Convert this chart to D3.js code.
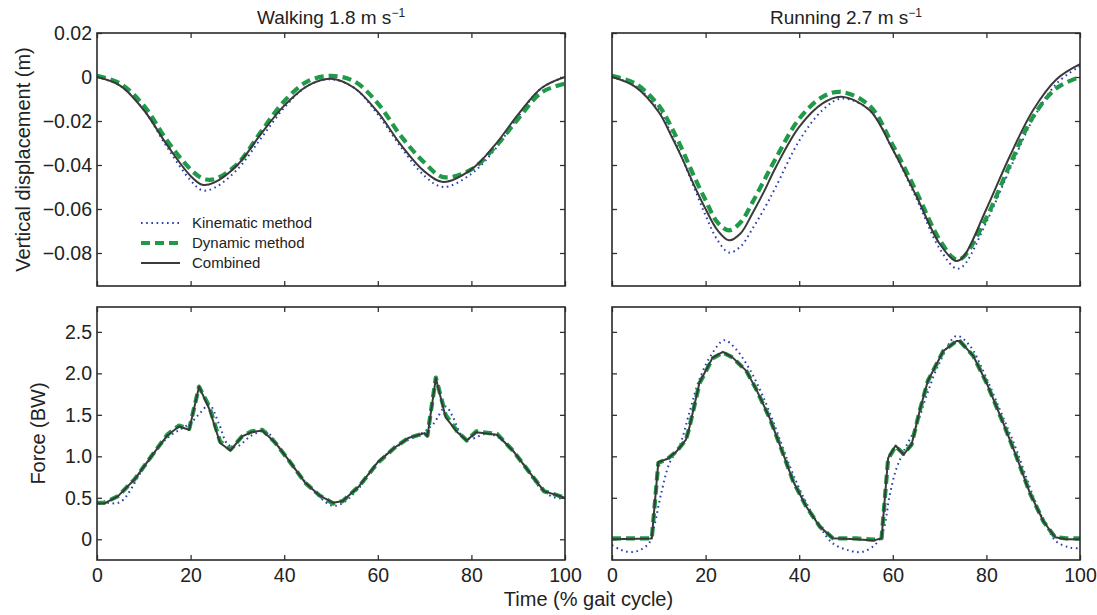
<!DOCTYPE html>
<html><head><meta charset="utf-8">
<script src="https://cdn.jsdelivr.net/npm/d3@7"></script>
<style>
body{margin:0;background:#fff;}
svg{display:block;font-family:"Liberation Sans",Arial,Helvetica,sans-serif;}
.tick text{fill:#222;}
</style></head>
<body><svg id="c" width="1097" height="615"></svg>
<script>
// ---------- data ----------
const xTicks = [0, 20, 40, 60, 80, 100];
const dispTicks = [0.02, 0, -0.02, -0.04, -0.06, -0.08];
const forceTicks = [0, 0.5, 1.0, 1.5, 2.0, 2.5];
const seriesNames = ["Kinematic method", "Dynamic method", "Combined"];

// Walking displacement (m)
const walkDispT    = [0,5,10,15,20,22.5,25,30,35,40,45,50,55,60,65,70,74,80,85,90,95,100];
const walkDispKin  = [0,-0.004,-0.015,-0.032,-0.047,-0.0515,-0.0505,-0.042,-0.028,-0.014,-0.004,-0.001,-0.005,-0.017,-0.032,-0.045,-0.050,-0.044,-0.033,-0.018,-0.005,0];
const walkDispDyn  = [0.0005,-0.003,-0.013,-0.029,-0.042,-0.046,-0.0465,-0.0395,-0.025,-0.011,-0.002,0.0005,-0.002,-0.012,-0.027,-0.039,-0.0455,-0.042,-0.032,-0.019,-0.007,-0.003];
const walkDispComb = [0,-0.004,-0.015,-0.031,-0.045,-0.049,-0.048,-0.040,-0.026,-0.013,-0.004,-0.0008,-0.005,-0.016,-0.031,-0.043,-0.0477,-0.042,-0.031,-0.017,-0.005,0];

// Running displacement (m)
const runDispT    = [0,5,10,12.5,15,17.5,20,22.5,25,27.5,30,32.5,35,40,45,49,55,60,65,70,73.5,75,80,85,90,95,100];
const runDispKin  = [0,-0.004,-0.015,-0.025,-0.037,-0.050,-0.063,-0.074,-0.0798,-0.077,-0.069,-0.060,-0.050,-0.029,-0.015,-0.0098,-0.015,-0.033,-0.055,-0.078,-0.087,-0.086,-0.066,-0.042,-0.019,-0.003,0.005];
const runDispDyn  = [0.0005,-0.003,-0.013,-0.022,-0.033,-0.045,-0.056,-0.066,-0.0697,-0.066,-0.057,-0.047,-0.037,-0.019,-0.009,-0.0068,-0.013,-0.031,-0.052,-0.074,-0.083,-0.082,-0.064,-0.040,-0.018,-0.005,0];
const runDispComb = [0,-0.0045,-0.016,-0.026,-0.037,-0.049,-0.060,-0.0695,-0.0742,-0.071,-0.062,-0.052,-0.041,-0.0227,-0.012,-0.009,-0.015,-0.033,-0.054,-0.0758,-0.0836,-0.082,-0.060,-0.036,-0.015,-0.001,0.0058];

// Walking force (BW)
const walkForceKinT = [0,2,5,10,15,18,20,22,24,26,28,30,33,36,40,45,50,52,56,60,65,70,72,74.5,76,78,80,83,86,90,95,98,100];
const walkForceKin  = [0.45,0.44,0.45,0.86,1.22,1.33,1.40,1.52,1.62,1.40,1.14,1.12,1.25,1.30,1.02,0.66,0.41,0.42,0.62,0.93,1.15,1.30,1.40,1.60,1.48,1.25,1.21,1.27,1.22,0.99,0.60,0.50,0.50];
const walkForceT    = [0,1.5,4.5,8,12,15,17.5,19.7,21.8,24,26.3,28.5,31,33,35.3,38,41,44.5,47.5,50.5,52.5,56,60,63.5,66.5,70,70.6,72.4,74.5,77,79,81,85.5,89,92.5,95.5,100];
const walkForceDyn  = [0.44,0.44,0.52,0.72,1.03,1.26,1.37,1.33,1.84,1.60,1.18,1.08,1.24,1.30,1.32,1.17,0.95,0.68,0.53,0.43,0.46,0.64,0.92,1.10,1.22,1.28,1.25,1.95,1.50,1.30,1.19,1.30,1.27,1.06,0.80,0.58,0.50];
const walkForceComb = [0.43,0.43,0.52,0.72,1.03,1.25,1.36,1.32,1.84,1.57,1.16,1.07,1.24,1.29,1.31,1.17,0.95,0.68,0.53,0.44,0.46,0.64,0.93,1.10,1.22,1.28,1.24,1.94,1.47,1.29,1.19,1.29,1.26,1.06,0.80,0.58,0.50];

// Running force (BW)
const runForceKinT = [0,2,4,6,8,9,10.5,12.3,14.4,16.5,18.7,21.5,24,26.5,29.4,32.2,35.1,38,40.8,44.4,47.2,50.8,53.6,56.5,58,59.3,60.7,62.5,65,67.2,70,73.6,76.5,79.3,82.9,86.4,90,92.9,95,97.9,100];
const runForceKin  = [-0.07,-0.13,-0.155,-0.13,-0.04,0.15,0.55,0.92,1.12,1.52,1.93,2.25,2.40,2.29,2.05,1.73,1.32,0.88,0.52,0.153,-0.05,-0.137,-0.15,-0.05,0.11,0.52,0.84,1.08,1.36,1.73,2.13,2.45,2.33,2.03,1.56,1.08,0.52,0.15,-0.03,-0.10,-0.11];
const runForceT    = [0,8.5,9.9,11.9,13.8,15.8,16.5,18.7,21.5,23.7,25.8,28.7,30.8,33.7,36.5,38.7,41.5,44.4,47.2,52.2,55.8,57.6,59,60.6,62.3,64,65.8,67.5,70.8,73.6,74.3,77.2,80,83.6,86.4,89.3,92.2,94.7,97.1,100];
const runForceDyn  = [0.01,0.01,0.92,0.97,1.06,1.2,1.34,1.88,2.18,2.25,2.19,2.03,1.81,1.46,1.04,0.70,0.395,0.153,0.012,0.01,-0.005,0.012,0.97,1.12,1.03,1.14,1.56,1.91,2.27,2.39,2.39,2.21,1.89,1.40,1.0,0.556,0.214,0.024,0.01,0.01];
const runForceComb = [0,0.01,0.93,0.97,1.06,1.2,1.34,1.89,2.19,2.26,2.19,2.03,1.81,1.46,1.04,0.70,0.395,0.153,0.012,0,-0.016,0.012,0.98,1.13,1.02,1.14,1.56,1.91,2.27,2.39,2.39,2.21,1.89,1.40,1.0,0.556,0.214,0.024,0,0];

// ---------- layout ----------
const svg = d3.select("#c");
const colX = [[97, 565], [612, 1080]];
const rowY = [[33, 286], [307, 560]];
const dispDomain = [-0.095, 0.02];
const forceDomain = [-0.25, 2.8];

const styles = {
  kin:  {stroke: "#2b3fb3", width: 2, dash: "1.6,3.6"},
  dyn:  {stroke: "#1e9a48", width: 4.2, dash: "9,5"},
  comb: {stroke: "#3a3a3a", width: 2, dash: null}
};

const fmtDisp = d => d === 0 ? "0" : d3.format(".2f")(d);
const fmtForce = d => d === 0 ? "0" : d3.format(".1f")(d);

let clipId = 0;
function panel(col, row, domain, yTickVals, yFmt, showY, showX, series) {
  const x = d3.scaleLinear().domain([0, 100]).range(colX[col]);
  const y = d3.scaleLinear().domain(domain).range([rowY[row][1], rowY[row][0]]);
  const g = svg.append("g");
  const id = "clip" + (clipId++);
  g.append("clipPath").attr("id", id).append("rect")
    .attr("x", colX[col][0]).attr("y", rowY[row][0])
    .attr("width", colX[col][1] - colX[col][0]).attr("height", rowY[row][1] - rowY[row][0]);

  const fs = "19.5px";
  const left = d3.axisLeft(y).tickValues(yTickVals).tickSizeInner(-5).tickSizeOuter(0).tickPadding(5)
    .tickFormat(showY ? yFmt : () => "");
  const right = d3.axisRight(y).tickValues(yTickVals).tickSizeInner(-5).tickSizeOuter(0).tickFormat(() => "");
  const bottom = d3.axisBottom(x).tickValues(xTicks).tickSizeInner(-5).tickSizeOuter(0).tickPadding(8)
    .tickFormat(showX ? d3.format("d") : () => "");
  const top = d3.axisTop(x).tickValues(xTicks).tickSizeInner(-5).tickSizeOuter(0).tickFormat(() => "");

  [[left, `translate(${colX[col][0]},0)`], [right, `translate(${colX[col][1]},0)`],
   [bottom, `translate(0,${rowY[row][1]})`], [top, `translate(0,${rowY[row][0]})`]].forEach(([ax, tr]) => {
    const a = g.append("g").attr("transform", tr).call(ax);
    a.select(".domain").remove();
    a.selectAll(".tick line").attr("stroke", "#333").attr("stroke-width", 1.3);
    a.selectAll(".tick text").attr("font-size", fs).attr("fill", "#222")
      .attr("font-family", '"Liberation Sans",Arial,sans-serif');
  });

  const lines = g.append("g").attr("clip-path", `url(#${id})`);
  series.forEach(s => {
    const line = d3.line().x(d => x(d[0])).y(d => y(d[1])).curve(s.curve);
    const st = styles[s.style];
    lines.append("path").datum(d3.zip(s.t, s.v))
      .attr("d", line).attr("fill", "none")
      .attr("stroke", st.stroke).attr("stroke-width", st.width)
      .attr("stroke-dasharray", st.dash).attr("stroke-linejoin", "round");
  });

  g.append("rect").attr("x", colX[col][0]).attr("y", rowY[row][0])
    .attr("width", colX[col][1] - colX[col][0]).attr("height", rowY[row][1] - rowY[row][0])
    .attr("fill", "none").attr("stroke", "#2a2a2a").attr("stroke-width", 1.6);
  return {x, y, g};
}

const smooth = d3.curveCatmullRom.alpha(0.5);
const lin = d3.curveLinear;

panel(0, 0, dispDomain, dispTicks, fmtDisp, true, false, [
  {t: walkDispT, v: walkDispKin, style: "kin", curve: smooth},
  {t: walkDispT, v: walkDispDyn, style: "dyn", curve: smooth},
  {t: walkDispT, v: walkDispComb, style: "comb", curve: smooth}
]);
panel(1, 0, dispDomain, dispTicks, fmtDisp, false, false, [
  {t: runDispT, v: runDispKin, style: "kin", curve: smooth},
  {t: runDispT, v: runDispDyn, style: "dyn", curve: smooth},
  {t: runDispT, v: runDispComb, style: "comb", curve: smooth}
]);
panel(0, 1, forceDomain, forceTicks, fmtForce, true, true, [
  {t: walkForceKinT, v: walkForceKin, style: "kin", curve: smooth},
  {t: walkForceT, v: walkForceDyn, style: "dyn", curve: lin},
  {t: walkForceT, v: walkForceComb, style: "comb", curve: lin}
]);
panel(1, 1, forceDomain, forceTicks, fmtForce, false, true, [
  {t: runForceKinT, v: runForceKin, style: "kin", curve: smooth},
  {t: runForceT, v: runForceDyn, style: "dyn", curve: lin},
  {t: runForceT, v: runForceComb, style: "comb", curve: lin}
]);

// titles
const titles = [["Walking 1.8 m s", "\u22121"], ["Running 2.7 m s", "\u22121"]];
titles.forEach((tt, i) => {
  const t = svg.append("text").attr("x", (colX[i][0] + colX[i][1]) / 2).attr("y", 24)
    .attr("text-anchor", "middle").attr("font-size", "19px").attr("fill", "#222");
  t.append("tspan").text(tt[0]);
  t.append("tspan").attr("dy", -7).attr("font-size", "12px").text(tt[1]);
});

// axis labels
svg.append("text").attr("transform", `translate(30,${(rowY[0][0] + rowY[0][1]) / 2}) rotate(-90)`)
  .attr("text-anchor", "middle").attr("font-size", "20px").attr("fill", "#222")
  .text("Vertical displacement (m)");
svg.append("text").attr("transform", `translate(45,${(rowY[1][0] + rowY[1][1]) / 2}) rotate(-90)`)
  .attr("text-anchor", "middle").attr("font-size", "20px").attr("fill", "#222")
  .text("Force (BW)");
svg.append("text").attr("x", (colX[0][1] + colX[1][0]) / 2).attr("y", 606)
  .attr("text-anchor", "middle").attr("font-size", "20px").attr("fill", "#222")
  .text("Time (% gait cycle)");

// legend
const legendKeys = ["kin", "dyn", "comb"];
const lg = svg.append("g");
legendKeys.forEach((k, i) => {
  const yy = 223 + i * 20;
  const st = styles[k];
  lg.append("line").attr("x1", 141).attr("x2", 180).attr("y1", yy).attr("y2", yy)
    .attr("stroke", st.stroke).attr("stroke-width", st.width).attr("stroke-dasharray", st.dash);
  lg.append("text").attr("x", 192).attr("y", yy + 5).attr("font-size", "15px").attr("fill", "#222")
    .text(seriesNames[i]);
});
</script></body></html>
